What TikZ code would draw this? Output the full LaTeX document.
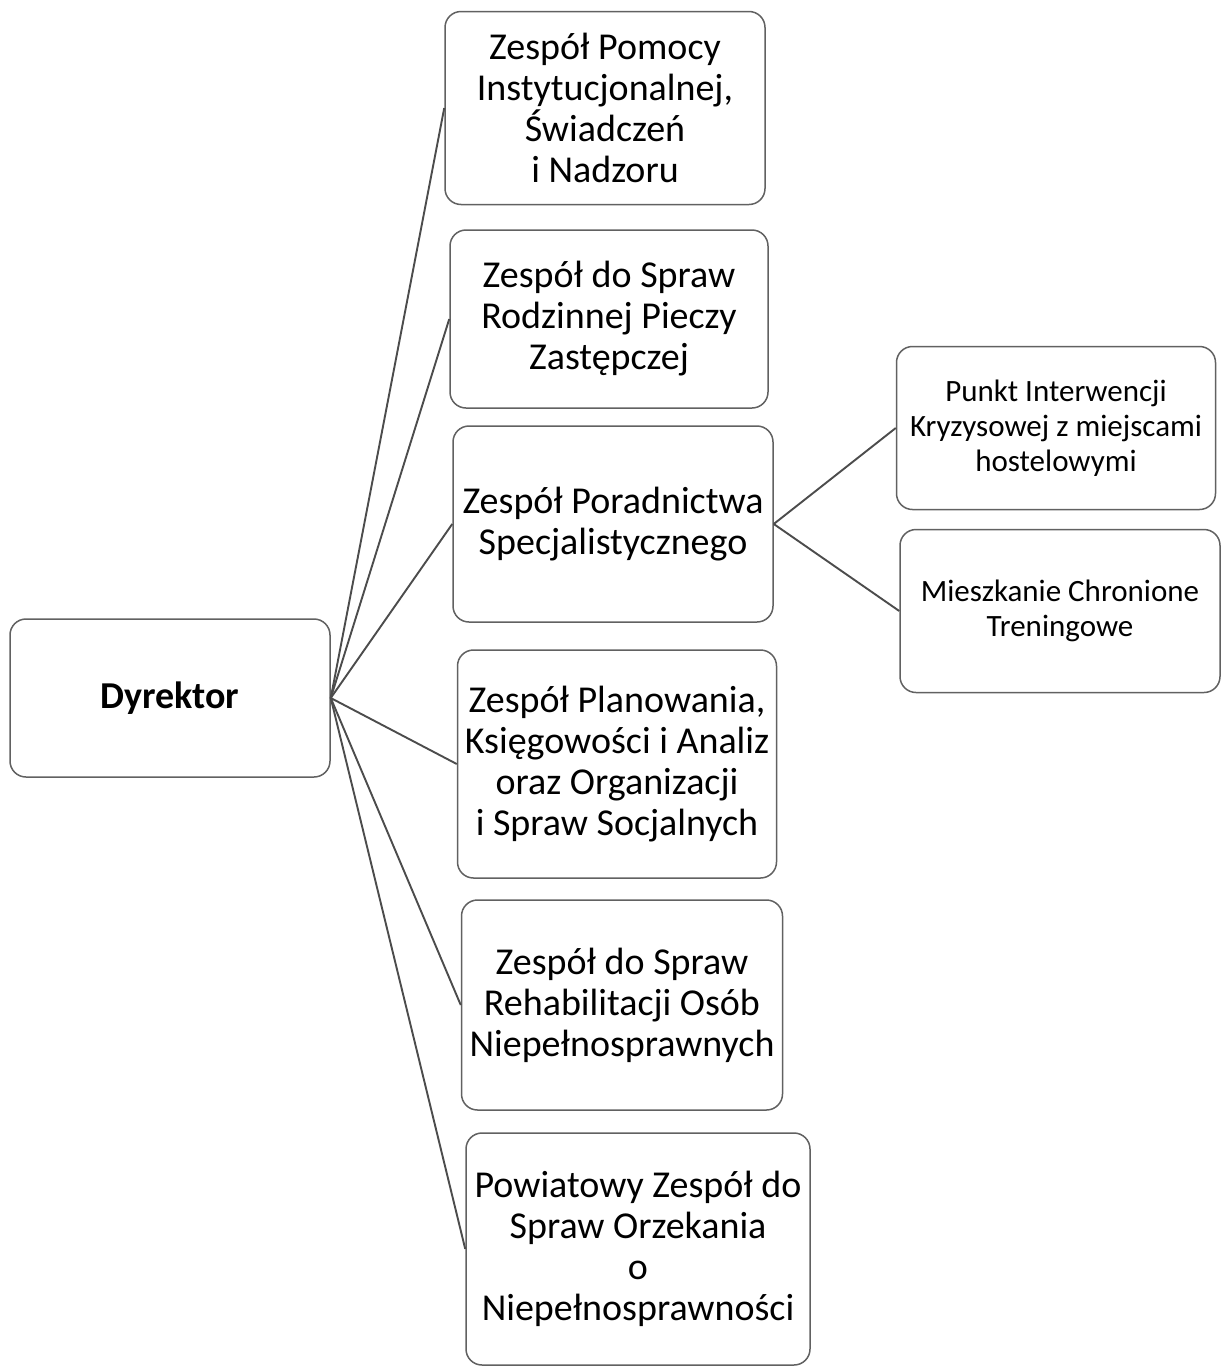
\documentclass[tikz,border=0pt]{standalone}
\usepackage{fontspec}
\setmainfont{Carlito}
\begin{document}
\begin{tikzpicture}[x=1pt,y=-1pt,
  box/.style={draw=black!62, line width=1.5pt, rounded corners=16pt, fill=white, align=center,
    inner sep=0pt, font=\fontsize{38}{41}\selectfont},
  smallbox/.style={box, font=\fontsize{31}{35}\selectfont},
  link/.style={draw=black!70, line width=1.9pt}]
\useasboundingbox (0,0) rectangle (1225,1371);
\fill[white] (0,0) rectangle (1225,1371);
\node[box, minimum width=320pt, minimum height=158pt] (dyr) at (170,698) {\textbf{Dyrektor}};
\node[box, minimum width=320pt, minimum height=193pt] (a) at (605,108) {Zespół Pomocy\\Instytucjonalnej,\\Świadczeń\\i Nadzoru};
\node[box, minimum width=318pt, minimum height=178pt] (b) at (609,319) {Zespół do Spraw\\Rodzinnej Pieczy\\Zastępczej};
\node[box, minimum width=320pt, minimum height=196pt] (c) at (613,524) {Zespół Poradnictwa\\Specjalistycznego};
\node[box, minimum width=319pt, minimum height=228pt] (d) at (617,764) {Zespół Planowania,\\Księgowości i Analiz\\oraz Organizacji\\i Spraw Socjalnych};
\node[box, minimum width=321pt, minimum height=210pt] (e) at (622,1005) {Zespół do Spraw\\Rehabilitacji Osób\\Niepełnosprawnych};
\node[box, minimum width=344pt, minimum height=232pt] (f) at (638,1249) {Powiatowy Zespół do\\Spraw Orzekania\\o\\Niepełnosprawności};
\node[smallbox, minimum width=319pt, minimum height=163pt] (g) at (1056,428) {Punkt Interwencji\\Kryzysowej z miejscami\\hostelowymi};
\node[smallbox, minimum width=320pt, minimum height=163pt] (h) at (1060,611) {Mieszkanie Chronione\\Treningowe};
\foreach \t in {a,b,c,d,e,f} \draw[link] (dyr.east) -- (\t.west);
\draw[link] (c.east) -- (g.west);
\draw[link] (c.east) -- (h.west);
\end{tikzpicture}
\end{document}
